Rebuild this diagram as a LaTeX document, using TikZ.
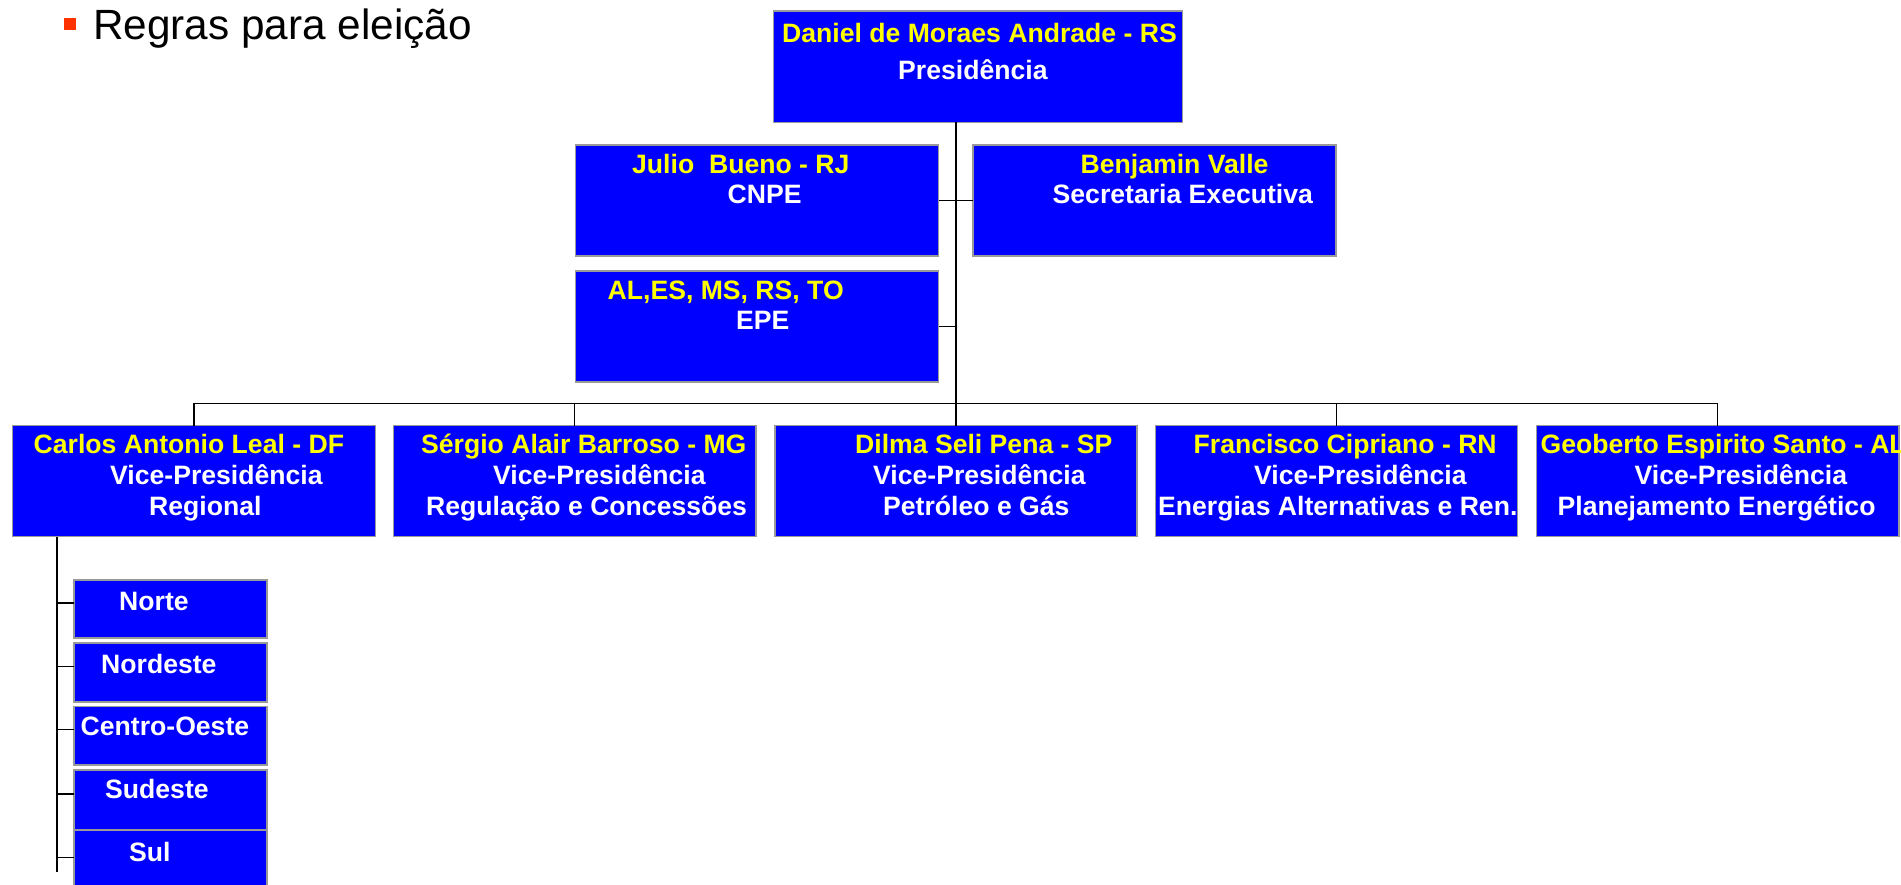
\documentclass[tikz,border=0pt]{standalone}
\usepackage{fontspec}
\setmainfont{Liberation Sans}
\newcommand{\orgfont}{\bfseries\fontsize{26.6}{31}\selectfont}
\definecolor{OrgBlue}{RGB}{0,0,255}
\definecolor{OrgYellow}{RGB}{255,255,0}
\definecolor{BulletRed}{RGB}{255,51,0}

\begin{document}
\begin{tikzpicture}[x=1pt, y=-1pt]
\useasboundingbox (0,0) rectangle (1901,885);

\coordinate (P0) at (63.5,18.5);
\coordinate (P1) at (76,30.5);
\fill[BulletRed] (P0) rectangle (P1);
\node[anchor=base west, inner sep=0pt, font=\fontsize{42.3}{48}\selectfont] (Title) at (93,39.5) {Regras para eleição};


\tikzset{BoxStyle/.style = {
 draw = gray!80,
 fill = OrgBlue,
 line width = 1.5pt,
 anchor = north west,
 inner sep = 0pt,
 outer sep = 0pt} }

\tikzset{LinkStyle/.style = {line width=1.3pt, black} }

\coordinate (Bar) at (956,403.5);
\coordinate (R0) at (57,536.5);
\coordinate (R1) at (57,872);

\node[BoxStyle, minimum width=409, minimum height=111.5] (B1) at (773.5,11) {};
\node[BoxStyle, minimum width=363, minimum height=111] (B2) at (575.5,145) {};
\node[BoxStyle, minimum width=363, minimum height=111] (B3) at (973,145) {};
\node[BoxStyle, minimum width=363, minimum height=111] (B4) at (575.5,271) {};
\node[BoxStyle, minimum width=363, minimum height=111] (B5) at (12.5,425.5) {};
\node[BoxStyle, minimum width=362.5, minimum height=111] (B6) at (393.5,425.5) {};
\node[BoxStyle, minimum width=362, minimum height=111] (B7) at (775,425.5) {};
\node[BoxStyle, minimum width=362, minimum height=111] (B8) at (1155.5,425.5) {};
\node[BoxStyle, minimum width=362.5, minimum height=111] (B9) at (1536.5,425.5) {};

\node[BoxStyle, minimum width=193, minimum height=58] (S1) at (74,580) {};
\node[BoxStyle, minimum width=193, minimum height=59] (S2) at (74,643) {};
\node[BoxStyle, minimum width=193, minimum height=58.5] (S3) at (74,706.5) {};
\node[BoxStyle, minimum width=193, minimum height=60] (S4) at (74,770) {};
\node[BoxStyle, minimum width=193, minimum height=60] (S5) at (74,830.5) {};


\draw[LinkStyle] (B7.north) -- (B7.north |- B1.south);
\draw[LinkStyle] (B2.east) -- (B3.west);
\draw[LinkStyle] (B4.east) -- (B4.east -| B7.north);
\draw[LinkStyle] (B5.north) -- (B5.north |- Bar) -- (B9.north |- Bar) -- (B9.north);
\draw[LinkStyle] (B6.north) -- (B6.north |- Bar);
\draw[LinkStyle] (B8.north) -- (B8.north |- Bar);
\draw[LinkStyle] (R0) -- (R1);
\draw[LinkStyle] ([yshift=6pt]S1.west) -- ++(-17,0);
\draw[LinkStyle] ([yshift=6pt]S2.west) -- ++(-17,0);
\draw[LinkStyle] ([yshift=6pt]S3.west) -- ++(-17,0);
\draw[LinkStyle] ([yshift=6pt]S4.west) -- ++(-17,0);
\draw[LinkStyle] ([yshift=3pt]S5.west) -- ++(-17,0);


\tikzset{NameStyle/.style = {anchor=base west, inner sep=0pt, text=OrgYellow, font=\orgfont},
 RoleStyle/.style = {anchor=base west, inner sep=0pt, text=white, font=\orgfont} }

\node[NameStyle] (T1_1) at (782,42.7) {Daniel de Moraes Andrade - RS};
\node[RoleStyle] (T1_2) at (898,79.3) {Presidência};
\node[NameStyle] (T2_1) at (632,173.3) {Julio~~Bueno - RJ};
\node[RoleStyle] (T2_2) at (727.5,204) {CNPE};
\node[NameStyle] (T3_1) at (1080.5,173.3) {Benjamin Valle};
\node[RoleStyle] (T3_2) at (1052.5,204) {Secretaria Executiva};
\node[NameStyle] (T4_1) at (607.5,299.3) {AL,ES, MS, RS, TO};
\node[RoleStyle] (T4_2) at (736,330) {EPE};
\node[NameStyle] (T5_1) at (33.5,453.3) {Carlos Antonio Leal - DF};
\node[RoleStyle] (T5_2) at (110,484.3) {Vice-Presidência};
\node[RoleStyle] (T5_3) at (149,515.7) {Regional};
\node[NameStyle] (T6_1) at (421,453.3) {Sérgio Alair Barroso - MG};
\node[RoleStyle] (T6_2) at (493,484.3) {Vice-Presidência};
\node[RoleStyle] (T6_3) at (426,515.7) {Regulação e Concessões};
\node[NameStyle] (T7_1) at (855,453.3) {Dilma Seli Pena - SP};
\node[RoleStyle] (T7_2) at (873,484.3) {Vice-Presidência};
\node[RoleStyle] (T7_3) at (883,515.7) {Petróleo e Gás};
\node[NameStyle] (T8_1) at (1193.5,453.3) {Francisco Cipriano - RN};
\node[RoleStyle] (T8_2) at (1254,484.3) {Vice-Presidência};
\node[RoleStyle] (T8_3) at (1158,515.7) {Energias Alternativas e Ren.};
\node[NameStyle] (T9_1) at (1540.5,453.3) {Geoberto Espirito Santo - AL};
\node[RoleStyle] (T9_2) at (1634.5,484.3) {Vice-Presidência};
\node[RoleStyle] (T9_3) at (1557.5,515.7) {Planejamento Energético};

\node[RoleStyle] (U1) at (119,610) {Norte};
\node[RoleStyle] (U2) at (101,673.3) {Nordeste};
\node[RoleStyle] (U3) at (80.5,735) {Centro-Oeste};
\node[RoleStyle] (U4) at (105,798.3) {Sudeste};
\node[RoleStyle] (U5) at (129,861.7) {Sul};

\end{tikzpicture}
\end{document}
